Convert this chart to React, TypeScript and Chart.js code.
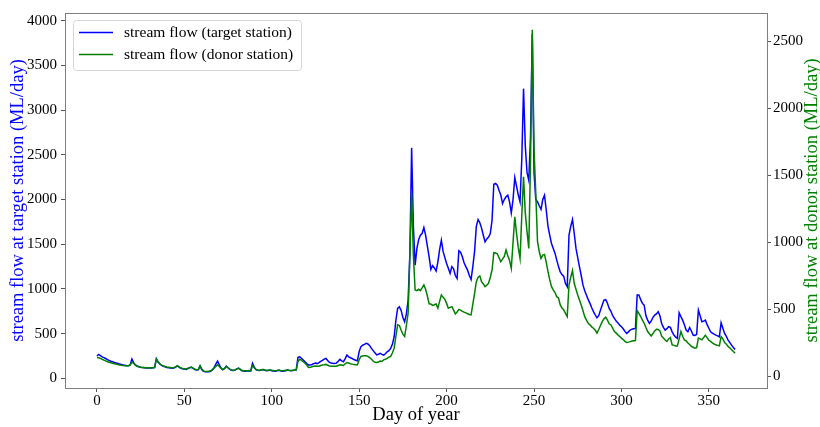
import React, { useEffect, useRef } from "react";
import { Chart, registerables } from "chart.js";
Chart.register(...registerables);

// Daily stream flow at the target station (ML/day), day 0..365
const targetFlow = [
  250, 268, 255, 240, 232, 222, 210, 200, 192, 185,
  178, 172, 166, 160, 155, 150, 146, 142, 140, 150,
  215, 175, 150, 138, 130, 124, 120, 118, 117, 116,
  116, 115, 118, 120, 219, 180, 160, 145, 135, 128,
  122, 118, 115, 112, 115, 125, 140, 125, 112, 106,
  104, 100, 110, 118, 123, 112, 98, 93, 96, 137,
  95, 78, 74, 74, 75, 80, 93, 120, 160, 193,
  150, 115, 96, 110, 137, 118, 100, 90, 88, 92,
  105, 115, 100, 84, 82, 80, 83, 84, 82, 167,
  125, 98, 90, 88, 92, 98, 90, 86, 88, 92,
  86, 82, 80, 85, 90, 84, 80, 82, 86, 92,
  88, 85, 88, 92, 96, 234, 240, 225, 205, 185,
  165, 150, 148, 155, 165, 170, 165, 175, 190, 200,
  215, 223, 200, 178, 172, 168, 166, 170, 190, 212,
  195, 186, 220, 260, 240, 230, 222, 210, 202, 197,
  300, 355, 370, 380, 391, 385, 365, 335, 310, 285,
  262, 270, 279, 268, 260, 275, 297, 310, 335, 380,
  465, 650, 782, 800, 760, 680, 632, 720, 875, 1400,
  2580, 1700, 1266, 1450, 1550, 1601, 1620, 1687, 1600, 1480,
  1359, 1218, 1260, 1235, 1200, 1300, 1440, 1545, 1420, 1350,
  1285, 1230, 1173, 1250, 1225, 1150, 1117, 1426, 1410, 1360,
  1292, 1250, 1210, 1150, 1106, 1250, 1420, 1700, 1777, 1740,
  1680, 1600, 1526, 1560, 1580, 1620, 1769, 2171, 2180, 2160,
  2100, 2050, 1955, 2000, 2030, 2048, 1973, 1850, 2000, 2246,
  2150, 2050, 1973, 2450, 3240, 2600, 2300, 2215, 2700, 3850,
  2300, 2000, 1973, 1930, 1890, 2000, 2048, 1880, 1700, 1600,
  1508, 1453, 1400, 1322, 1250, 1191, 1160, 1140, 1060, 1024,
  1601, 1700, 1777, 1620, 1453, 1350, 1247, 1150, 1042, 980,
  930, 880, 838, 790, 745, 710, 677, 700, 763, 820,
  875, 880, 840, 782, 750, 700, 670, 640, 620, 595,
  577, 555, 525, 503, 520, 540, 550, 555, 558, 931,
  931, 880, 838, 819, 700, 651, 614, 640, 680, 707,
  720, 745, 700, 614, 570, 540, 555, 577, 570, 520,
  484, 460, 447, 733, 690, 651, 600, 540, 521, 568,
  530, 484, 480, 490, 763, 700, 633, 640, 651, 600,
  560, 521, 505, 495, 484, 475, 465, 621, 560, 503,
  470, 428, 400, 372, 345, 324,
];

// Daily stream flow at the donor station (ML/day), day 0..365
const donorFlow = [
  141, 140, 135, 128, 122, 116, 110, 106, 102, 98,
  95, 92, 89, 86, 84, 82, 80, 79, 80, 85,
  107, 98, 85, 76, 72, 69, 67, 66, 65, 65,
  65, 64, 65, 68, 130, 110, 95, 84, 78, 74,
  70, 68, 66, 64, 66, 72, 80, 72, 64, 60,
  57, 56, 60, 66, 70, 62, 54, 50, 53, 80,
  55, 42, 37, 37, 38, 42, 50, 62, 75, 87,
  75, 60, 52, 60, 75, 65, 55, 48, 47, 50,
  55, 60, 52, 44, 43, 42, 43, 44, 43, 80,
  65, 52, 48, 47, 50, 52, 48, 46, 47, 49,
  46, 44, 43, 45, 48, 45, 43, 44, 46, 48,
  46, 45, 47, 48, 50, 112, 128, 122, 110, 98,
  85, 67, 68, 72, 77, 78, 76, 77, 82, 85,
  87, 90, 84, 78, 77, 77, 76, 77, 82, 87,
  85, 82, 95, 104, 100, 95, 92, 90, 88, 87,
  125, 149, 152, 154, 154, 150, 140, 128, 115, 106,
  104, 108, 115, 112, 124, 128, 135, 144, 150, 175,
  211, 300, 385, 380, 345, 315, 298, 380, 472, 900,
  1365, 900, 645, 640, 650, 640, 660, 682, 650, 600,
  541, 540, 530, 535, 541, 509, 560, 608, 590, 575,
  545, 509, 515, 520, 495, 466, 480, 500, 495, 485,
  480, 474, 468, 462, 459, 540, 620, 707, 740, 749,
  707, 690, 670, 680, 695, 740, 794, 923, 920, 915,
  885, 856, 875, 895, 943, 900, 865, 806, 1000, 1190,
  1067, 960, 881, 1200, 1488, 1220, 1080, 955, 1600, 2585,
  1700, 1365, 1005, 930, 880, 905, 910, 850, 781, 720,
  670, 645, 626, 595, 585, 533, 510, 496, 470, 446,
  682, 740, 789, 695, 650, 608, 570, 533, 490, 446,
  420, 397, 385, 370, 360, 345, 323, 350, 380, 409,
  430, 442, 420, 393, 384, 360, 335, 323, 310, 298,
  286, 275, 262, 253, 256, 260, 264, 266, 268, 491,
  470, 447, 420, 397, 365, 335, 318, 302, 320, 340,
  352, 350, 340, 300, 286, 272, 261, 280, 290, 236,
  232, 228, 228, 280, 335, 300, 273, 265, 250, 238,
  224, 218, 211, 215, 286, 280, 273, 290, 308, 290,
  270, 261, 250, 242, 236, 232, 228, 298, 280, 253,
  240, 224, 212, 199, 186, 174,
];

const xTickValues = [0, 50, 100, 150, 200, 250, 300, 350];
const leftTickValues = [0, 500, 1000, 1500, 2000, 2500, 3000, 3500, 4000];
const rightTickValues = [0, 500, 1000, 1500, 2000, 2500];

const seriesLabels = ["stream flow (target station)", "stream flow (donor station)"];
const xTitle = "Day of year";
const leftTitle = "stream flow at target station (ML/day)";
const rightTitle = "stream flow at donor station (ML/day)";

const BLUE = "#0000ff";
const GREEN = "#008000";
const FONT = "'Liberation Serif', 'Times New Roman', serif";
const SPINE = "#7f7f7f";

export default function App() {
  const ref = useRef<HTMLCanvasElement>(null);

  useEffect(() => {
    if (!ref.current) return;

    const decor = {
      id: "decor",
      afterDatasetsDraw(chart: any) {
        const { ctx, chartArea: a } = chart;
        ctx.save();
        // frame
        ctx.strokeStyle = SPINE;
        ctx.lineWidth = 1;
        ctx.strokeRect(Math.round(a.left) + 0.5, Math.round(a.top) + 0.5, Math.round(a.right - a.left), Math.round(a.bottom - a.top));

        // axis titles
        ctx.textAlign = "center";
        ctx.textBaseline = "middle";
        ctx.font = `18.5px ${FONT}`;
        const cy = (a.top + a.bottom) / 2;
        ctx.fillStyle = BLUE;
        ctx.save();
        ctx.translate(18, cy);
        ctx.rotate(-Math.PI / 2);
        ctx.fillText(leftTitle, 0, 0);
        ctx.restore();
        ctx.fillStyle = GREEN;
        ctx.save();
        ctx.translate(812, cy);
        ctx.rotate(-Math.PI / 2);
        ctx.fillText(rightTitle, 0, 0);
        ctx.restore();
        ctx.fillStyle = "#000";
        ctx.fillText(xTitle, (a.left + a.right) / 2, 415);

        // legend
        const lx = 73.5, ly = 20.5, lw = 228, lh = 50, r = 3;
        ctx.beginPath();
        ctx.moveTo(lx + r, ly);
        ctx.lineTo(lx + lw - r, ly);
        ctx.arcTo(lx + lw, ly, lx + lw, ly + r, r);
        ctx.lineTo(lx + lw, ly + lh - r);
        ctx.arcTo(lx + lw, ly + lh, lx + lw - r, ly + lh, r);
        ctx.lineTo(lx + r, ly + lh);
        ctx.arcTo(lx, ly + lh, lx, ly + lh - r, r);
        ctx.lineTo(lx, ly + r);
        ctx.arcTo(lx, ly, lx + r, ly, r);
        ctx.closePath();
        ctx.fillStyle = "rgba(255,255,255,0.8)";
        ctx.fill();
        ctx.strokeStyle = "#d6d6d6";
        ctx.stroke();

        const rows = [
          { y: 32.5, color: BLUE, text: seriesLabels[0] },
          { y: 54.5, color: GREEN, text: seriesLabels[1] },
        ];
        ctx.font = `15.5px ${FONT}`;
        ctx.textAlign = "left";
        for (const row of rows) {
          ctx.strokeStyle = row.color;
          ctx.lineWidth = 1.5;
          ctx.beginPath();
          ctx.moveTo(79, row.y);
          ctx.lineTo(113, row.y);
          ctx.stroke();
          ctx.fillStyle = "#000";
          ctx.fillText(row.text, 124, row.y + 0.5);
        }
        ctx.restore();
      },
    };

    const tickFont = { family: FONT, size: 15, lineHeight: 1 };
    const plain = (v: any) => String(v);
    const gridCommon = {
      display: true,
      drawOnChartArea: false,
      drawTicks: true,
      tickLength: 4,
      color: "#555",
    };

    const chart = new Chart(ref.current, {
      type: "line",
      data: {
        datasets: [
          {
            label: seriesLabels[0],
            data: targetFlow.map((v, i) => ({ x: i, y: v })),
            borderColor: BLUE,
            backgroundColor: BLUE,
            borderWidth: 1.5,
            pointRadius: 0,
            tension: 0,
            yAxisID: "yL",
            order: 1,
          },
          {
            label: seriesLabels[1],
            data: donorFlow.map((v, i) => ({ x: i, y: v })),
            borderColor: GREEN,
            backgroundColor: GREEN,
            borderWidth: 1.5,
            pointRadius: 0,
            tension: 0,
            yAxisID: "yR",
            order: 0,
          },
        ],
      },
      plugins: [decor],
      options: {
        responsive: false,
        animation: false,
        events: [],
        layout: { padding: { top: 13, left: 0, right: 0, bottom: 0 } },
        plugins: { legend: { display: false }, tooltip: { enabled: false } },
        scales: {
          x: {
            type: "linear",
            min: -18.25,
            max: 383.25,
            afterFit: (s: any) => { s.height = 39; },
            afterBuildTicks: (s: any) => { s.ticks = xTickValues.map((v) => ({ value: v })); },
            ticks: { font: tickFont, color: "#000", padding: 2, autoSkip: false, maxRotation: 0, callback: plain },
            grid: gridCommon,
            border: { display: false },
          },
          yL: {
            type: "linear",
            position: "left",
            min: -108,
            max: 4086,
            afterFit: (s: any) => { s.width = 65; },
            afterBuildTicks: (s: any) => { s.ticks = leftTickValues.map((v) => ({ value: v })); },
            ticks: { font: tickFont, color: "#000", padding: 4, autoSkip: false, callback: plain },
            grid: gridCommon,
            border: { display: false },
          },
          yR: {
            type: "linear",
            position: "right",
            min: -86,
            max: 2710,
            afterFit: (s: any) => { s.width = 53; },
            afterBuildTicks: (s: any) => { s.ticks = rightTickValues.map((v) => ({ value: v })); },
            ticks: { font: tickFont, color: "#000", padding: 2, autoSkip: false, callback: plain },
            grid: gridCommon,
            border: { display: false },
          },
        },
      },
    } as any);

    return () => chart.destroy();
  }, []);

  return (
    <div style={{ position: "fixed", left: 0, top: 0, width: 820, height: 427, background: "#fff" }}>
      <canvas ref={ref} width={820} height={427} style={{ display: "block", width: 820, height: 427 }} />
    </div>
  );
}
